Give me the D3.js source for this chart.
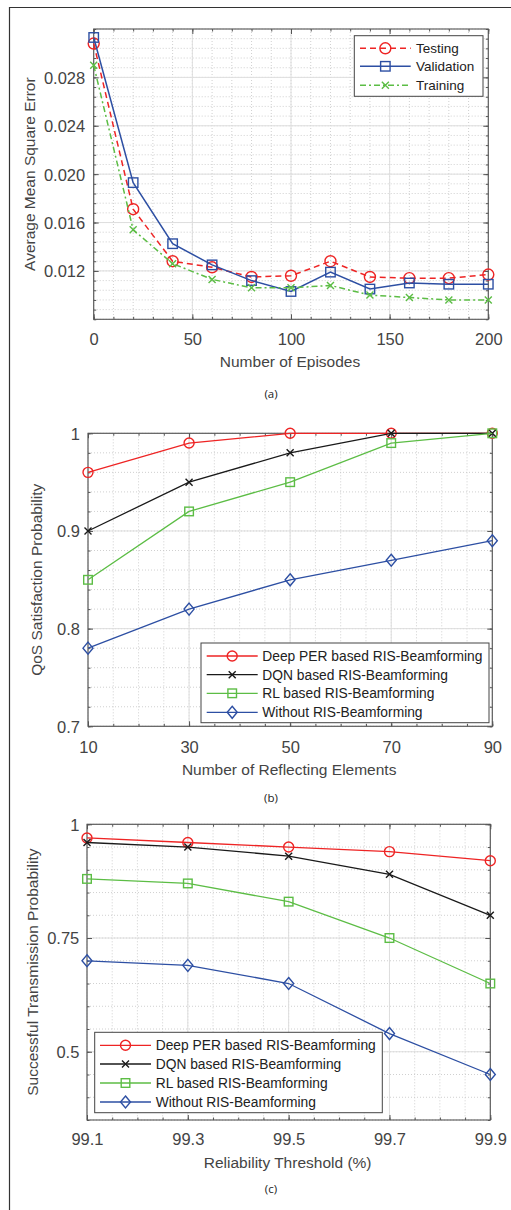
<!DOCTYPE html>
<html>
<head>
<meta charset="utf-8">
<script src="https://cdn.jsdelivr.net/npm/d3@7"></script>
<style>
  body { margin: 0; background: #fff; }
  svg { display: block; }
  .tick text { font-family: "Liberation Sans", Arial, sans-serif; fill: #444; }
</style>
</head>
<body>
<div id="chart"></div>
<script>
// (a) training curves
var episodes = [0, 20, 40, 60, 80, 100, 120, 140, 160, 180, 200];
var testingMSE = [0.0308, 0.0171, 0.0128, 0.0123, 0.0115, 0.0116, 0.0128, 0.0115, 0.0114, 0.0114, 0.0117];
var validationMSE = [0.0313, 0.0193, 0.01425, 0.0125, 0.0112, 0.0103, 0.0119, 0.0105, 0.0110, 0.0109, 0.0109];
var trainingMSE = [0.0290, 0.0154, 0.0126, 0.0113, 0.0106, 0.0106, 0.0108, 0.0100, 0.0098, 0.0096, 0.0096];
var mseTicks = [0.012, 0.016, 0.020, 0.024, 0.028];
var episodeTicks = [0, 50, 100, 150, 200];

// (b) QoS vs reflecting elements
var reflectingElements = [10, 30, 50, 70, 90];
var qosDeepPER = [0.96, 0.99, 1.0, 1.0, 1.0];
var qosDQN = [0.90, 0.95, 0.98, 1.0, 1.0];
var qosRL = [0.85, 0.92, 0.95, 0.99, 1.0];
var qosWithout = [0.78, 0.82, 0.85, 0.87, 0.89];
var qosTicks = [0.7, 0.8, 0.9, 1];

// (c) success vs reliability threshold
var reliabilityThreshold = [99.1, 99.3, 99.5, 99.7, 99.9];
var succDeepPER = [0.97, 0.96, 0.95, 0.94, 0.92];
var succDQN = [0.96, 0.95, 0.93, 0.89, 0.80];
var succRL = [0.88, 0.87, 0.83, 0.75, 0.65];
var succWithout = [0.70, 0.69, 0.65, 0.54, 0.45];
var succTicks = [0.5, 0.75, 1];

var schemeNames = ["Deep PER based RIS-Beamforming", "DQN based RIS-Beamforming",
                   "RL based RIS-Beamforming", "Without RIS-Beamforming"];

var RED = "#ee2424", BLUE = "#2d4fa3", GREEN = "#5cbd45", BLACK = "#1a1a1a";
var FONT = "'Liberation Sans', Arial, sans-serif";

var width = 511, height = 1210;

var svg = d3.select("#chart").append("svg")
    .attr("width", width)
    .attr("height", height);

svg.append("rect").attr("width", width).attr("height", height).attr("fill", "#fff");

// outer frame (left + top edge)
svg.append("path")
    .attr("d", "M9.5,1210 V7.5 H511")
    .attr("fill", "none")
    .attr("stroke", "#333")
    .attr("stroke-width", 1.2);

function marker(g, type, cx, cy, color, s) {
    s = s || 1;
    if (type === "circle") {
        g.append("circle").attr("cx", cx).attr("cy", cy).attr("r", 5 * s)
            .attr("fill", "none").attr("stroke", color).attr("stroke-width", 1.4);
    } else if (type === "square") {
        g.append("rect").attr("x", cx - 4.3 * s).attr("y", cy - 4.3 * s)
            .attr("width", 8.6 * s).attr("height", 8.6 * s)
            .attr("fill", "none").attr("stroke", color).attr("stroke-width", 1.4);
    } else if (type === "diamond") {
        g.append("path")
            .attr("d", "M" + cx + "," + (cy - 6) + " L" + (cx + 5) + "," + cy +
                  " L" + cx + "," + (cy + 6) + " L" + (cx - 5) + "," + cy + " Z")
            .attr("fill", "none").attr("stroke", color).attr("stroke-width", 1.4);
    } else if (type === "x") {
        g.append("path")
            .attr("d", "M" + (cx - 3.5) + "," + (cy - 3.5) + " L" + (cx + 3.5) + "," + (cy + 3.5) +
                  " M" + (cx - 3.5) + "," + (cy + 3.5) + " L" + (cx + 3.5) + "," + (cy - 3.5))
            .attr("fill", "none").attr("stroke", color).attr("stroke-width", 1.4);
    }
}

function drawPanel(p) {
    var x = d3.scaleLinear().domain(p.xDomain).range([p.left, p.right]);
    var y = d3.scaleLinear().domain(p.yDomain).range([p.bottom, p.top]);
    var g = svg.append("g");
    var eps = 1e-9;

    var xMinor = d3.range(p.xDomain[0], p.xDomain[1] + eps, p.xMinor);
    var yMinor = d3.range(p.yDomain[0], p.yDomain[1] + eps, p.yMinor);

    // minor grid (dotted)
    g.selectAll(".mgx").data(xMinor).enter().append("line")
        .attr("x1", function(d) { return x(d); }).attr("x2", function(d) { return x(d); })
        .attr("y1", p.top).attr("y2", p.bottom)
        .attr("stroke", "#c4c4c4").attr("stroke-width", 0.8).attr("stroke-dasharray", "1,2");
    g.selectAll(".mgy").data(yMinor).enter().append("line")
        .attr("y1", function(d) { return y(d); }).attr("y2", function(d) { return y(d); })
        .attr("x1", p.left).attr("x2", p.right)
        .attr("stroke", "#c4c4c4").attr("stroke-width", 0.8).attr("stroke-dasharray", "1,2");

    // major grid
    g.selectAll(".gx").data(p.xTicks).enter().append("line")
        .attr("x1", function(d) { return x(d); }).attr("x2", function(d) { return x(d); })
        .attr("y1", p.top).attr("y2", p.bottom)
        .attr("stroke", "#dedede").attr("stroke-width", 1);
    g.selectAll(".gy").data(p.yTicks).enter().append("line")
        .attr("y1", function(d) { return y(d); }).attr("y2", function(d) { return y(d); })
        .attr("x1", p.left).attr("x2", p.right)
        .attr("stroke", "#dedede").attr("stroke-width", 1);

    // minor ticks, all four sides
    [[d3.axisBottom(x).tickValues(xMinor), "translate(0," + p.bottom + ")"],
     [d3.axisTop(x).tickValues(xMinor), "translate(0," + p.top + ")"],
     [d3.axisLeft(y).tickValues(yMinor), "translate(" + p.left + ",0)"],
     [d3.axisRight(y).tickValues(yMinor), "translate(" + p.right + ",0)"]].forEach(function(a) {
        var ag = g.append("g").attr("transform", a[1])
            .call(a[0].tickSizeInner(-2.5).tickSizeOuter(0).tickFormat(""));
        ag.select(".domain").remove();
        ag.selectAll("line").attr("stroke", "#555");
    });

    // major ticks top/right
    var ta = g.append("g").attr("transform", "translate(0," + p.top + ")")
        .call(d3.axisTop(x).tickValues(p.xTicks).tickSizeInner(-5).tickSizeOuter(0).tickFormat(""));
    var ra = g.append("g").attr("transform", "translate(" + p.right + ",0)")
        .call(d3.axisRight(y).tickValues(p.yTicks).tickSizeInner(-5).tickSizeOuter(0).tickFormat(""));
    [ta, ra].forEach(function(a) { a.select(".domain").remove(); a.selectAll("line").attr("stroke", "#555"); });

    // bottom axis with labels
    var xa = g.append("g").attr("transform", "translate(0," + p.bottom + ")")
        .call(d3.axisBottom(x).tickValues(p.xTicks).tickSizeInner(-5).tickSizeOuter(0)
            .tickFormat(p.xFormat));
    xa.select(".domain").remove();
    xa.selectAll("line").attr("stroke", "#555");
    xa.selectAll("text").attr("y", p.xLabelGap).attr("dy", "0.36em")
        .style("font-size", "16.5px").style("font-family", FONT).attr("fill", "#444");

    var ya = g.append("g").attr("transform", "translate(" + p.left + ",0)")
        .call(d3.axisLeft(y).tickValues(p.yTicks).tickSizeInner(-5).tickSizeOuter(0)
            .tickFormat(p.yFormat));
    ya.select(".domain").remove();
    ya.selectAll("line").attr("stroke", "#555");
    ya.selectAll("text").attr("x", -p.yLabelGap).attr("dy", "0.36em")
        .style("font-size", "16.5px").style("font-family", FONT).attr("fill", "#444");

    // axes box
    g.append("rect")
        .attr("x", p.left).attr("y", p.top)
        .attr("width", p.right - p.left).attr("height", p.bottom - p.top)
        .attr("fill", "none").attr("stroke", "#555").attr("stroke-width", 1.1);

    // axis titles
    g.append("text")
        .attr("x", (p.left + p.right) / 2 - 1).attr("y", p.xTitleY)
        .attr("text-anchor", "middle").attr("dy", "0.36em")
        .style("font-family", FONT).style("font-size", "15.5px").attr("fill", "#444")
        .text(p.xTitle);
    g.append("text")
        .attr("transform", "translate(" + p.yTitleX + "," + ((p.top + p.bottom) / 2) + ") rotate(-90)")
        .attr("text-anchor", "middle").attr("dy", "0.36em")
        .style("font-family", FONT).style("font-size", "15.5px").attr("fill", "#444")
        .text(p.yTitle);

    // caption
    g.append("text")
        .attr("x", 271).attr("y", p.captionY).attr("dy", "0.35em")
        .attr("text-anchor", "middle")
        .style("font-family", "'Open Sans', sans-serif").style("font-size", "11.5px")
        .attr("fill", "#222")
        .text(p.caption);

    // series
    p.series.forEach(function(s) {
        var line = d3.line()
            .x(function(d, i) { return x(p.xs[i]); })
            .y(function(d) { return y(d); });
        g.append("path")
            .attr("d", line(s.values))
            .attr("fill", "none")
            .attr("stroke", s.color)
            .attr("stroke-width", p.lineWidth)
            .attr("stroke-dasharray", s.dash || null);
        s.values.forEach(function(v, i) { marker(g, s.marker, x(p.xs[i]), y(v), s.color, p.markerScale); });
    });

    // legend
    var L = p.legend;
    g.append("rect")
        .attr("x", L.x0).attr("y", L.y0)
        .attr("width", L.x1 - L.x0).attr("height", L.y1 - L.y0)
        .attr("fill", "#fff").attr("stroke", "#444").attr("stroke-width", 1);
    p.series.forEach(function(s, i) {
        var ly = L.rows[i];
        g.append("line")
            .attr("x1", L.lineX0).attr("x2", L.lineX1).attr("y1", ly).attr("y2", ly)
            .attr("stroke", s.color).attr("stroke-width", p.lineWidth)
            .attr("stroke-dasharray", s.dash || null);
        marker(g, s.marker, (L.lineX0 + L.lineX1) / 2, ly, s.color, p.markerScale);
        g.append("text")
            .attr("x", L.textX).attr("y", ly).attr("dy", "0.36em")
            .style("font-family", FONT).style("font-size", L.fontSize + "px")
            .attr("fill", "#222")
            .text(s.name);
    });
}

drawPanel({
    left: 93.7, right: 488.3, top: 29, bottom: 319.3,
    xDomain: [0, 200], yDomain: [0.008, 0.032],
    xTicks: episodeTicks, yTicks: mseTicks,
    xMinor: 10, yMinor: 0.0008,
    xFormat: d3.format("d"), yFormat: d3.format(".3f"),
    xLabelGap: 20, yLabelGap: 8.5,
    xTitle: "Number of Episodes", xTitleY: 361.7,
    yTitle: "Average Mean Square Error", yTitleX: 29,
    caption: "(a)", captionY: 394,
    lineWidth: 1.5, markerScale: 1.1,
    xs: episodes,
    series: [
        { name: "Testing", values: testingMSE, color: RED, marker: "circle", dash: "6,4" },
        { name: "Validation", values: validationMSE, color: BLUE, marker: "square" },
        { name: "Training", values: trainingMSE, color: GREEN, marker: "x", dash: "6,3,2,3" }
    ],
    legend: { x0: 354.3, x1: 483, y0: 35.7, y1: 96.3, rows: [48.3, 66.3, 85.3],
              lineX0: 360, lineX1: 410.7, textX: 416, fontSize: 13.5 }
});

drawPanel({
    left: 88, right: 492.3, top: 433.3, bottom: 726.3,
    xDomain: [10, 90], yDomain: [0.7, 1],
    xTicks: reflectingElements, yTicks: qosTicks,
    xMinor: 5, yMinor: 0.02,
    xFormat: d3.format("d"), yFormat: function(d) { return String(d); },
    xLabelGap: 20.4, yLabelGap: 8,
    xTitle: "Number of Reflecting Elements", xTitleY: 769,
    yTitle: "QoS Satisfaction Probability", yTitleX: 36,
    caption: "(b)", captionY: 797.7,
    lineWidth: 1.3, markerScale: 1,
    xs: reflectingElements,
    series: [
        { name: schemeNames[0], values: qosDeepPER, color: RED, marker: "circle" },
        { name: schemeNames[1], values: qosDQN, color: BLACK, marker: "x" },
        { name: schemeNames[2], values: qosRL, color: GREEN, marker: "square" },
        { name: schemeNames[3], values: qosWithout, color: BLUE, marker: "diamond" }
    ],
    legend: { x0: 201, x1: 489, y0: 643, y1: 722.7, rows: [656, 674.7, 693.3, 712.3],
              lineX0: 206.7, lineX1: 257.7, textX: 262.3, fontSize: 13.8 }
});

drawPanel({
    left: 87, right: 490.3, top: 824.3, bottom: 1120,
    xDomain: [99.1, 99.9], yDomain: [0.35, 1],
    xTicks: reliabilityThreshold, yTicks: succTicks,
    xMinor: 0.05, yMinor: 0.05,
    xFormat: d3.format(".1f"), yFormat: function(d) { return String(d); },
    xLabelGap: 19.3, yLabelGap: 7.7,
    xTitle: "Reliability Threshold (%)", xTitleY: 1162.7,
    yTitle: "Successful Transmission Probability", yTitleX: 32.3,
    caption: "(c)", captionY: 1189.3,
    lineWidth: 1.3, markerScale: 1,
    xs: reliabilityThreshold,
    series: [
        { name: schemeNames[0], values: succDeepPER, color: RED, marker: "circle" },
        { name: schemeNames[1], values: succDQN, color: BLACK, marker: "x" },
        { name: schemeNames[2], values: succRL, color: GREEN, marker: "square" },
        { name: schemeNames[3], values: succWithout, color: BLUE, marker: "diamond" }
    ],
    legend: { x0: 94.7, x1: 382.3, y0: 1032.3, y1: 1112.7, rows: [1045.3, 1064, 1083, 1102],
              lineX0: 100, lineX1: 151, textX: 155.7, fontSize: 13.8 }
});
</script>
</body>
</html>
